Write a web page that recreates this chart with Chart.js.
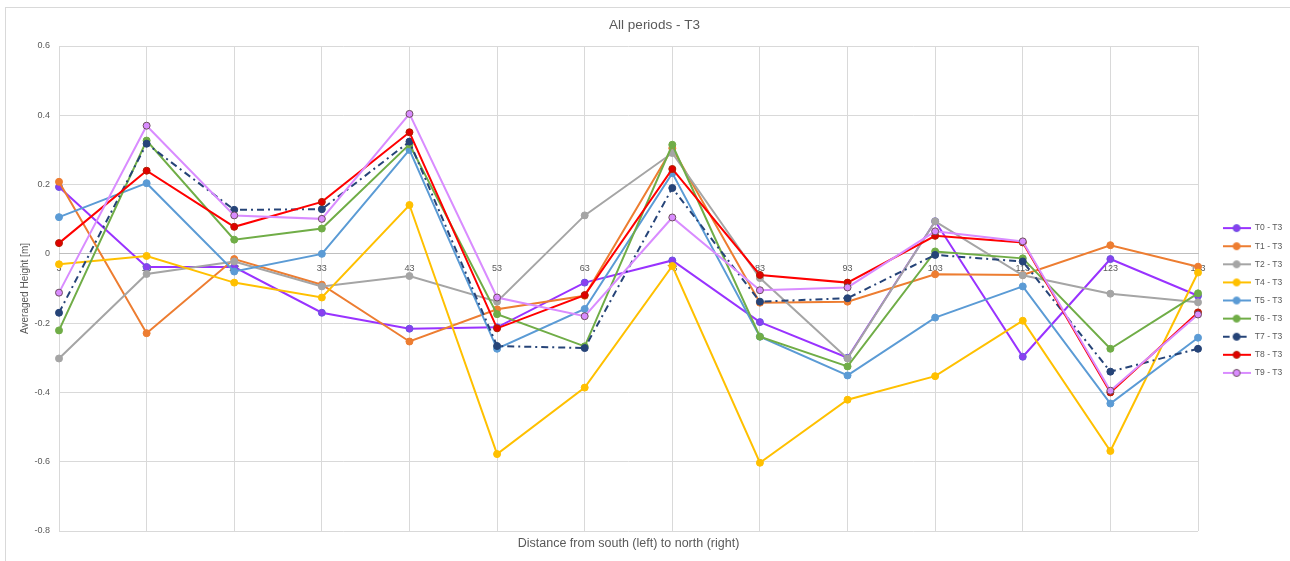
<!DOCTYPE html>
<html>
<head>
<meta charset="utf-8">
<script src="https://cdn.jsdelivr.net/npm/chart.js@4.4.1/dist/chart.umd.min.js"></script>
<style>
  html, body { margin: 0; padding: 0; background: #ffffff; }
  #wrap { width: 1290px; height: 561px; position: relative; }
</style>
</head>
<body>
<div id="wrap"><canvas id="c" width="1290" height="561"></canvas></div>
<script>
// ---- data ----
const categories = ['3','13','23','33','43','53','63','73','83','93','103','113','123','133'];
const yTicks = [-0.8, -0.6, -0.4, -0.2, 0, 0.2, 0.4, 0.6];
const seriesNames = ['T0 - T3','T1 - T3','T2 - T3','T4 - T3','T5 - T3','T6 - T3','T7 - T3','T8 - T3','T9 - T3'];

const t0 = [0.193,-0.038,-0.038,-0.170,-0.216,-0.212,-0.083,-0.019,-0.197,-0.300,0.094,-0.297,-0.015,-0.121];
const t1 = [0.208,-0.229,-0.015,-0.089,-0.253,-0.160,-0.121,0.305,-0.141,-0.138,-0.059,-0.061,0.025,-0.037];
const t2 = [-0.302,-0.058,-0.022,-0.094,-0.064,-0.138,0.111,0.291,-0.070,-0.302,0.094,-0.062,-0.115,-0.140];
const t4 = [-0.030,-0.006,-0.083,-0.126,0.141,-0.578,-0.386,-0.035,-0.603,-0.421,-0.353,-0.193,-0.569,-0.054];
const t5 = [0.106,0.204,-0.051,0.000,0.300,-0.274,-0.159,0.233,-0.239,-0.351,-0.184,-0.094,-0.432,-0.242];
const t6 = [-0.221,0.327,0.041,0.073,0.316,-0.174,-0.267,0.315,-0.239,-0.325,0.007,-0.013,-0.274,-0.114];
const t7 = [-0.170,0.318,0.127,0.129,0.324,-0.266,-0.272,0.190,-0.138,-0.128,-0.003,-0.022,-0.340,-0.274];
const t8 = [0.031,0.240,0.078,0.150,0.351,-0.215,-0.119,0.245,-0.061,-0.083,0.052,0.033,-0.400,-0.169];
const t9 = [-0.112,0.370,0.111,0.101,0.404,-0.126,-0.180,0.105,-0.105,-0.097,0.065,0.036,-0.395,-0.175];

const seriesValues = [t0, t1, t2, t4, t5, t6, t7, t8, t9];

// ---- styles ----
const lineColors   = ['#9933FF','#ED7D31','#A5A5A5','#FFC000','#5B9BD5','#70AD47','#264478','#FF0000','#D98CFF'];
const markerFill   = ['#8A3FF0','#ED7D31','#A5A5A5','#FFC000','#5B9BD5','#70AD47','#264478','#E00000','#D98CFF'];
const markerBorder = ['#6A55E0','#ED7D31','#A5A5A5','#FFC000','#5B9BD5','#70AD47','#264478','#B02000','#6E5060'];
const dashes       = [[],[],[],[],[],[],[7,4,2,4],[],[]];

const FONT = "'Liberation Sans', Arial, sans-serif";
const TXT = '#595959';

function legendImage(i) {
  const cv = document.createElement('canvas');
  cv.width = 28; cv.height = 10;
  const g = cv.getContext('2d');
  g.strokeStyle = lineColors[i];
  g.lineWidth = 2;
  g.setLineDash(dashes[i]);
  g.beginPath(); g.moveTo(0, 5); g.lineTo(28, 5); g.stroke();
  g.setLineDash([]);
  g.beginPath(); g.arc(14, 5, 3.5, 0, Math.PI * 2);
  g.fillStyle = markerFill[i]; g.fill();
  g.lineWidth = 1; g.strokeStyle = markerBorder[i]; g.stroke();
  return cv;
}
const legendImgs = seriesNames.map((_, i) => legendImage(i));

const datasets = seriesNames.map((name, i) => ({
  label: name,
  data: seriesValues[i],
  xAxisID: 'x',
  yAxisID: 'y',
  borderColor: lineColors[i],
  backgroundColor: markerFill[i],
  borderWidth: 2,
  borderDash: dashes[i],
  pointRadius: 3.5,
  pointHoverRadius: 3.5,
  pointBackgroundColor: markerFill[i],
  pointBorderColor: markerBorder[i],
  pointBorderWidth: 1,
  tension: 0,
  fill: false,
  order: seriesNames.length - 1 - i
}));

const framePlugin = {
  id: 'frame',
  beforeDraw(chart) {
    const ctx = chart.ctx;
    ctx.save();
    ctx.fillStyle = '#ffffff';
    ctx.fillRect(0, 0, chart.width, chart.height);
    ctx.strokeStyle = '#D9D9D9';
    ctx.lineWidth = 1;
    ctx.strokeRect(5.5, 7.5, 1400, 700);
    ctx.restore();
  }
};

new Chart(document.getElementById('c'), {
  type: 'line',
  data: { labels: categories, datasets },
  plugins: [framePlugin],
  options: {
    responsive: false,
    animation: false,
    devicePixelRatio: 1,
    layout: { padding: { left: 19, right: 0, top: 0, bottom: 0 } },
    plugins: {
      tooltip: { enabled: false },
      title: {
        display: true,
        text: 'All periods - T3',
        color: TXT,
        font: { family: FONT, size: 13.5, weight: 'normal' },
        padding: { top: 17, bottom: 12.8 }
      },
      legend: {
        position: 'right',
        maxWidth: 77,
        title: { display: true, text: '', padding: { top: 28, bottom: 0 }, font: { size: 10 } },
        labels: {
          color: TXT,
          font: { family: FONT, size: 8.5 },
          usePointStyle: true,
          pointStyleWidth: 28,
          padding: 9.6,
          sort: (a, b) => a.datasetIndex - b.datasetIndex,
          generateLabels(chart) {
            const items = Chart.defaults.plugins.legend.labels.generateLabels(chart);
            items.forEach(it => { it.pointStyle = legendImgs[it.datasetIndex]; });
            return items;
          }
        }
      }
    },
    scales: {
      x: {
        type: 'category',
        axis: 'x',
        position: { y: 0 },
        offset: false,
        grid: { color: '#D9D9D9', lineWidth: 1, drawTicks: false },
        border: { display: true, color: '#BFBFBF', width: 1 },
        ticks: { color: TXT, font: { family: FONT, size: 9 }, padding: 9, maxRotation: 0, autoSkip: false }
      },
      xt: {
        type: 'linear',
        axis: 'x',
        position: 'bottom',
        display: true,
        grid: { display: false, drawTicks: false },
        border: { display: false },
        ticks: { display: false },
        afterFit(s) { s.height = 30; },
        title: {
          display: true,
          text: 'Distance from south (left) to north (right)',
          color: TXT,
          font: { family: FONT, size: 12.5 },
          padding: { top: 0, bottom: 10 }
        }
      },
      y: {
        type: 'linear',
        position: 'left',
        min: -0.8,
        max: 0.6,
        afterBuildTicks(s) { s.ticks = yTicks.map(v => ({ value: v })); },
        grid: { color: '#D9D9D9', lineWidth: 1, drawTicks: false },
        border: { display: false },
        ticks: {
          color: TXT,
          font: { family: FONT, size: 9 },
          padding: 9,
          callback: v => String(Math.round(v * 10) / 10)
        },
        afterFit(s) { s.width = 40; },
        title: {
          display: true,
          text: 'Averaged Height [m]',
          color: TXT,
          font: { family: FONT, size: 10 },
          padding: { top: 0, bottom: 0 }
        }
      },
      yr: {
        type: 'linear',
        axis: 'y',
        position: 'right',
        display: true,
        grid: { display: false, drawTicks: false },
        border: { display: false },
        ticks: { display: false },
        afterFit(s) { s.width = 15; }
      }
    }
  }
});
</script>
</body>
</html>
